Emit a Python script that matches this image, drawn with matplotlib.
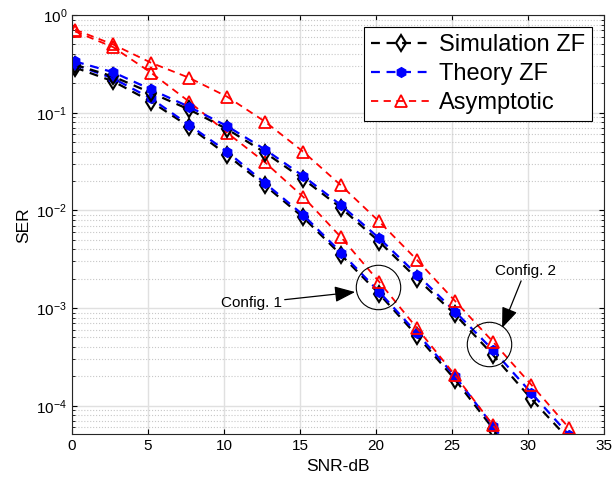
import matplotlib
matplotlib.use("Agg")
import matplotlib.pyplot as plt

plt.rcParams['font.family'] = ['Liberation Sans', 'DejaVu Sans']

snr = [0.2, 2.7, 5.2, 7.7, 10.2, 12.7, 15.2, 17.7, 20.2, 22.7, 25.2, 27.7, 30.2, 32.7]

# config 1
sim_1 = [0.29, 0.21, 0.13, 0.072, 0.037, 0.018, 0.0085, 0.0035, 0.0014, 5.2e-4, 1.85e-4, 5.8e-5, 1.6e-5, 4e-6]
theory_1 = [0.31, 0.225, 0.14, 0.075, 0.040, 0.019, 0.0090, 0.0037, 0.00147, 5.5e-4, 2.0e-4, 6.2e-5, 1.8e-5, 4.5e-6]
asym_1 = [0.68, 0.47, 0.257, 0.13, 0.0624, 0.031, 0.0138, 0.0053, 0.00186, 6.2e-4, 2.05e-4, 6.3e-5, 1.85e-5, 4.6e-6]

# config 2
sim_2 = [0.31, 0.235, 0.16, 0.108, 0.068, 0.039, 0.021, 0.0106, 0.0048, 0.0020, 8.6e-4, 3.3e-4, 1.18e-4, 4.5e-5]
theory_2 = [0.335, 0.26, 0.173, 0.115, 0.073, 0.042, 0.0225, 0.0113, 0.0052, 0.0022, 9.2e-4, 3.7e-4, 1.36e-4, 5.0e-5]
asym_2 = [0.71, 0.50, 0.325, 0.228, 0.146, 0.081, 0.040, 0.018, 0.0077, 0.0031, 0.00118, 4.5e-4, 1.65e-4, 5.9e-5]

labels = ['Simulation ZF', 'Theory ZF', 'Asymptotic']

fig = plt.figure(figsize=(6.13, 4.83), dpi=100)
ax = fig.add_axes([0.1175, 0.1008, 0.868, 0.868])

sim_style = dict(color='black', ls='--', lw=1.6, marker='d', ms=8, mfc='none', mew=1.5, dashes=(4, 3))
th_style = dict(color='blue', ls='--', lw=1.6, marker='h', ms=7, mfc='blue', mew=1, dashes=(4, 3))
as_style = dict(color='red', ls='--', lw=1.3, marker='^', ms=9, mfc='none', mew=1.3, dashes=(4, 3))

ax.semilogy(snr, sim_1, label=labels[0], **sim_style)
ax.semilogy(snr, theory_1, label=labels[1], **th_style)
ax.semilogy(snr, asym_1, label=labels[2], **as_style)
ax.semilogy(snr, sim_2, **sim_style)
ax.semilogy(snr, theory_2, **th_style)
ax.semilogy(snr, asym_2, **as_style)

# circles around the highlighted points
ax.plot([20.11], [1.65e-3], 'o', ms=32, mfc='none', mec='black', mew=0.8)
ax.plot([27.43], [4.28e-4], 'o', ms=32, mfc='none', mec='black', mew=0.8)

arrow = dict(arrowstyle='-|>,head_length=0.9,head_width=0.35', color='black', lw=0.9,
             shrinkA=0, shrinkB=0, mutation_scale=14)
ax.annotate('Config. 1', xy=(18.62, 1.46e-3), xytext=(11.8, 1.12e-3),
            ha='center', va='center', fontsize=11, arrowprops=arrow)
ax.annotate('Config. 2', xy=(28.29, 6.25e-4), xytext=(29.8, 2.39e-3),
            ha='center', va='center', fontsize=11, arrowprops=arrow)

ax.set_xlim(0, 35)
ax.set_ylim(5.1e-5, 1)
ax.set_xlabel('SNR-dB', fontsize=12.5)
ax.set_ylabel('SER', fontsize=12.5)
ax.tick_params(axis='both', which='both', direction='in', top=True, right=True, labelsize=11)
ax.grid(True, which='major', color='#e0e0e0', lw=1)
ax.grid(True, which='minor', axis='y', color='#c8c8c8', ls=':', lw=0.8)
for s in ax.spines.values():
    s.set_color('#262626')

leg = ax.legend(loc='upper right', fontsize=17, fancybox=False, framealpha=1,
                edgecolor='black', borderaxespad=0.5, labelspacing=0.3,
                handlelength=2.6, handletextpad=0.3, borderpad=0.3)
leg.get_frame().set_linewidth(0.8)

fig.savefig('out.png', dpi=100)
